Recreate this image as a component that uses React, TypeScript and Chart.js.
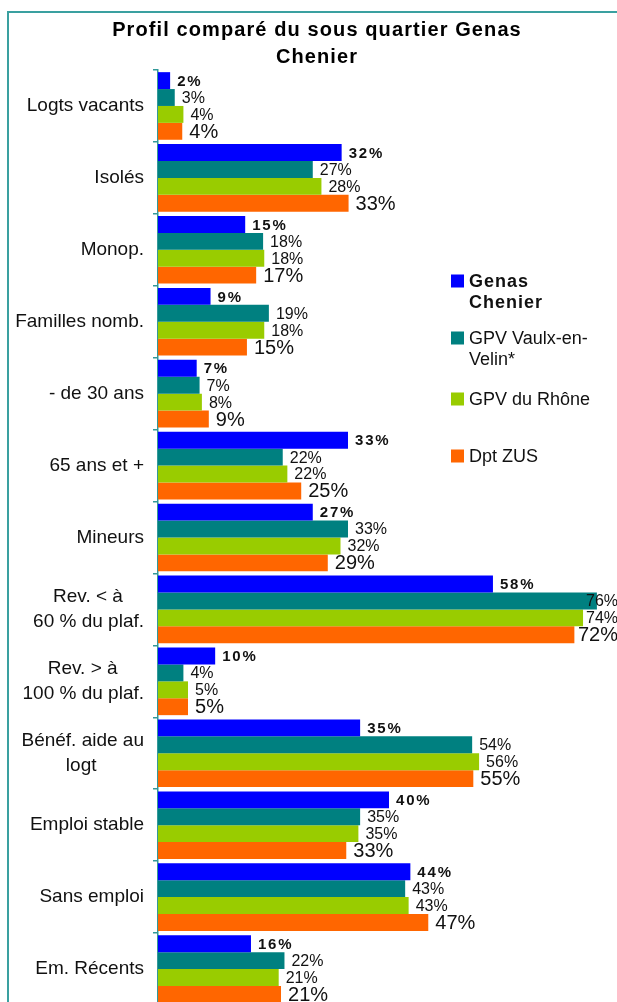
import React, { useEffect, useRef } from "react";
import { Chart, registerables } from "chart.js";

Chart.register(...registerables);

// ---------- data ----------
const categories: string[][] = [
  ["Logts vacants"],
  ["Isolés"],
  ["Monop."],
  ["Familles nomb."],
  ["- de 30 ans"],
  ["65 ans et +"],
  ["Mineurs"],
  ["Rev. < à", "60 % du plaf."],
  ["Rev. > à", "100 % du plaf."],
  ["Bénéf. aide au", "logt"],
  ["Emploi stable"],
  ["Sans emploi"],
  ["Em. Récents"],
];

const seriesNames = ["Genas Chenier", "GPV Vaulx-en-Velin*", "GPV du Rhône", "Dpt ZUS"];
const legendLines = [["Genas", "Chenier"], ["GPV Vaulx-en-", "Velin*"], ["GPV du Rhône"], ["Dpt ZUS"]];

const genasChenier = [2.1, 31.8, 15.1, 9.1, 6.7, 32.9, 26.8, 58.0, 9.9, 35.0, 40.0, 43.7, 16.1];
const gpvVaulx = [2.9, 26.8, 18.2, 19.2, 7.2, 21.6, 32.9, 76.0, 4.4, 54.4, 35.0, 42.8, 21.9];
const gpvRhone = [4.4, 28.3, 18.4, 18.4, 7.6, 22.4, 31.6, 73.6, 5.2, 55.6, 34.7, 43.4, 20.9];
const dptZus = [4.2, 33.0, 17.0, 15.4, 8.8, 24.8, 29.4, 72.1, 5.2, 54.6, 32.6, 46.8, 21.3];

const titleLines = ["Profil comparé du sous quartier Genas", "Chenier"];
const xMin = 0;
const xMax = 80;

// ---------- styles ----------
const FONT = '"Liberation Sans", Arial, sans-serif';
const colors = ["#0000FF", "#008080", "#99CC00", "#FF6600"];
const axisColor = "#339999";
const frameColor = "#3AA0A0";
const textColor = "#111111";
const tickFontSize = 19;
const labelStyles = [
  { weight: "bold", size: 15, spacing: 1.8 },
  { weight: "normal", size: 16, spacing: 0 },
  { weight: "normal", size: 16, spacing: 0 },
  { weight: "normal", size: 20, spacing: 0 },
];
const legendStyles = [
  { weight: "bold", size: 18, spacing: 1 },
  { weight: "normal", size: 18, spacing: 0 },
  { weight: "normal", size: 18, spacing: 0 },
  { weight: "normal", size: 18, spacing: 0 },
];

const measureCtx: CanvasRenderingContext2D | null =
  typeof document !== "undefined" ? document.createElement("canvas").getContext("2d") : null;

function centeredLines(lines: string[]): string | string[] {
  if (lines.length < 2 || !measureCtx) return lines.length === 1 ? lines[0] : lines;
  measureCtx.font = `${tickFontSize}px ${FONT}`;
  const widths = lines.map((l) => measureCtx.measureText(l).width);
  const max = Math.max(...widths);
  const sp = measureCtx.measureText(" ").width;
  return lines.map((l, i) => l + " ".repeat(Math.max(0, Math.round((max - widths[i]) / 2 / sp))));
}

const decorPlugin = {
  id: "decor",
  beforeDraw(chart: any) {
    const ctx = chart.ctx as CanvasRenderingContext2D;
    ctx.save();
    ctx.fillStyle = "#ffffff";
    ctx.fillRect(0, 0, chart.width, chart.height);
    ctx.strokeStyle = frameColor;
    ctx.lineWidth = 2;
    ctx.strokeRect(8, 12, 618, 1100);
    ctx.restore();
  },
  afterDatasetsDraw(chart: any) {
    const ctx = chart.ctx as CanvasRenderingContext2D;
    const limit = chart.chartArea.right - 2;
    chart.data.datasets.forEach((ds: any, i: number) => {
      const meta = chart.getDatasetMeta(i);
      const st = labelStyles[i];
      ctx.save();
      ctx.font = `${st.weight} ${st.size}px ${FONT}`;
      (ctx as any).letterSpacing = `${st.spacing}px`;
      ctx.fillStyle = textColor;
      ctx.textAlign = "left";
      ctx.textBaseline = "middle";
      meta.data.forEach((bar: any, j: number) => {
        const txt = `${Math.round(ds.data[j])}%`;
        const w = ctx.measureText(txt).width;
        const x = Math.min(bar.x + 7, limit - w);
        ctx.fillText(txt, x, bar.y + 1);
      });
      ctx.restore();
    });
  },
  afterDraw(chart: any) {
    const ctx = chart.ctx as CanvasRenderingContext2D;
    // title
    ctx.save();
    ctx.font = `bold 20px ${FONT}`;
    (ctx as any).letterSpacing = "1.1px";
    ctx.fillStyle = "#000";
    ctx.textAlign = "center";
    ctx.textBaseline = "alphabetic";
    const titleY = [36, 62.5];
    titleLines.forEach((t, i) => ctx.fillText(t, 317, titleY[i]));
    ctx.restore();

    // legend
    const entryY = [281, 338, 399, 456];
    legendLines.forEach((lines, i) => {
      const st = legendStyles[i];
      ctx.save();
      ctx.fillStyle = colors[i];
      ctx.fillRect(451, entryY[i] - 6.5, 13, 13);
      ctx.font = `${st.weight} ${st.size}px ${FONT}`;
      (ctx as any).letterSpacing = `${st.spacing}px`;
      ctx.fillStyle = textColor;
      ctx.textAlign = "left";
      ctx.textBaseline = "middle";
      lines.forEach((l, k) => ctx.fillText(l, 469, entryY[i] + 1 + k * 21.5));
      ctx.restore();
    });
  },
};

export default function App() {
  const canvasRef = useRef<HTMLCanvasElement | null>(null);

  useEffect(() => {
    if (!canvasRef.current) return;
    const seriesData = [genasChenier, gpvVaulx, gpvRhone, dptZus];
    const chart = new Chart(canvasRef.current, {
      type: "bar",
      data: {
        labels: categories.map((c) => c.join(" ")),
        datasets: seriesNames.map((name, i) => ({
          label: name,
          data: seriesData[i],
          backgroundColor: colors[i],
          borderWidth: 0,
          categoryPercentage: 0.94,
          barPercentage: 1,
        })),
      },
      options: {
        indexAxis: "y",
        responsive: false,
        animation: false,
        devicePixelRatio: 1,
        layout: { padding: { top: 70, right: 20, bottom: 5, left: 0 } },
        plugins: {
          legend: { display: false },
          title: { display: false },
          tooltip: { enabled: false },
        },
        scales: {
          x: { display: false, min: xMin, max: xMax },
          y: {
            type: "category",
            offset: true,
            grid: {
              display: true,
              drawOnChartArea: false,
              drawTicks: true,
              tickLength: 5,
              color: axisColor,
              lineWidth: 1.5,
              offset: true,
            },
            border: { display: true, color: axisColor, width: 1.5 },
            ticks: {
              autoSkip: false,
              padding: 9,
              color: textColor,
              font: { family: FONT, size: tickFontSize, lineHeight: 1.35 },
              callback: (_v: any, index: number) => centeredLines(categories[index]),
            },
            afterFit: (scale: any) => {
              scale.width = 158;
              scale.paddingTop = 0;
              scale.paddingBottom = 0;
            },
          },
        },
      } as any,
      plugins: [decorPlugin],
    });
    return () => chart.destroy();
  }, []);

  return (
    <div
      style={{
        position: "absolute",
        left: 0,
        top: 0,
        width: 617,
        height: 1002,
        overflow: "hidden",
        background: "#fff",
      }}
    >
      <canvas ref={canvasRef} width={640} height={1010} style={{ display: "block", width: 640, height: 1010 }} />
    </div>
  );
}
